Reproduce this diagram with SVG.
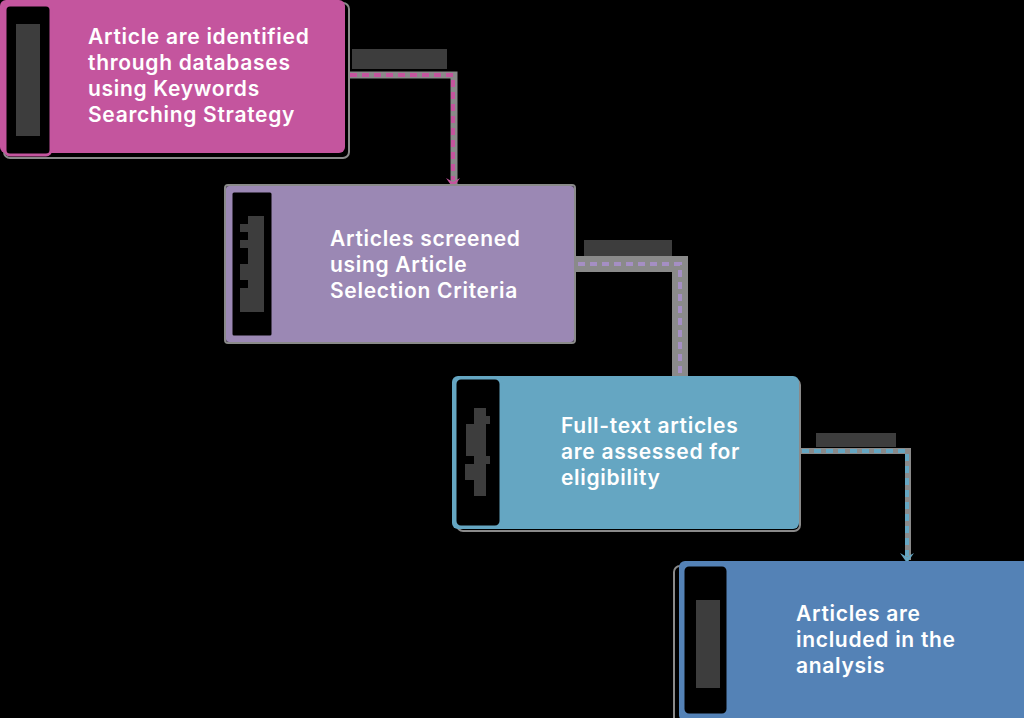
<svg xmlns="http://www.w3.org/2000/svg" width="1024" height="718" viewBox="0 0 1024 718">
<defs>
<style>
.t{font-family:Inter,"Liberation Sans",sans-serif;font-weight:600;font-size:21px;letter-spacing:0.7px;fill:#ffffff}
.shadow{fill:none;stroke:#8a8a8a}
.red{fill:#3d3d3d}
.band{fill:none;stroke:#8a8a8a;stroke-linejoin:miter}
.dash{fill:none;stroke-width:4;stroke-dasharray:7 5}
</style>
</defs>
<rect width="1024" height="718" fill="#000000"/>

<g id="connectors">
  <path class="band" stroke-width="7" d="M348,75 H454 V184"/>
  <path class="dash" stroke="#c4559e" d="M350,75 H453 V180"/>
  <path d="M446,178 L453,188 L460,178 L453,182 Z" fill="#c4559e"/>
  <rect class="red" x="352" y="49" width="95" height="20"/>

  <path class="band" stroke-width="16" d="M576,264 H680 V377"/>
  <path class="dash" stroke="#a58fc4" stroke-width="3" d="M578,264 H680 V376"/>
  <rect class="red" x="584" y="240" width="88" height="16"/>

  <path class="band" stroke-width="6" d="M800,451 H908 V560"/>
  <path class="dash" stroke="#65a6c2" stroke-width="3" d="M802,451 H907 V556"/>
  <path d="M900,553 L907,563 L914,553 L907,557 Z" fill="#65a6c2"/>
  <rect class="red" x="816" y="433" width="80" height="14"/>
</g>

<g id="node1">
  <rect x="4" y="3" width="345" height="155" rx="6" class="shadow" stroke-width="2"/>
  <rect x="0" y="0" width="345" height="153" rx="6" fill="#c4559e"/>
  <rect x="5" y="5" width="46" height="150" rx="5" fill="#000" stroke="#c4559e" stroke-width="3"/>
  <rect class="red" x="16" y="24" width="24" height="112"/>
  <text class="t" x="88" y="44">Article are identified</text>
  <text class="t" x="88" y="70">through databases</text>
  <text class="t" x="88" y="96">using Keywords</text>
  <text class="t" x="88" y="122">Searching Strategy</text>
</g>

<g id="node2">
  <rect x="225" y="185" width="350" height="158" rx="3" class="shadow" stroke-width="2"/>
  <rect x="226" y="186" width="348" height="156" rx="3" fill="#9b88b4"/>
  <rect x="231" y="191" width="42" height="146" rx="3" fill="#000" stroke="#9b88b4" stroke-width="3"/>
  <path class="red" d="M248,216 H264 V312 H240 V288 H248 V280 H240 V264 H248 V248 H240 V240 H248 V232 H240 V224 H248 Z"/>
  <text class="t" x="330" y="246">Articles screened</text>
  <text class="t" x="330" y="272">using Article</text>
  <text class="t" x="330" y="298">Selection Criteria</text>
</g>

<g id="node3">
  <rect x="457" y="379" width="343" height="152" rx="6" class="shadow" stroke-width="2"/>
  <rect x="452" y="376" width="347" height="153" rx="6" fill="#65a6c2"/>
  <rect x="455" y="378" width="46" height="149" rx="6" fill="#000" stroke="#65a6c2" stroke-width="3"/>
  <path class="red" d="M474,408 H486 V416 H490 V424 H486 V456 H490 V464 H486 V496 H474 V480 H465 V464 H474 V456 H466 V424 H474 Z"/>
  <text class="t" x="561" y="433">Full-text articles</text>
  <text class="t" x="561" y="459">are assessed for</text>
  <text class="t" x="561" y="485">eligibility</text>
</g>

<g id="node4">
  <rect x="674" y="566" width="360" height="160" rx="6" class="shadow" stroke-width="2"/>
  <rect x="679" y="561" width="360" height="160" rx="6" fill="#5482b6"/>
  <rect x="683" y="565" width="45" height="150" rx="6" fill="#000" stroke="#5482b6" stroke-width="3"/>
  <rect class="red" x="696" y="600" width="24" height="88"/>
  <text class="t" x="796" y="621">Articles are</text>
  <text class="t" x="796" y="647">included in the</text>
  <text class="t" x="796" y="673">analysis</text>
</g>
</svg>
